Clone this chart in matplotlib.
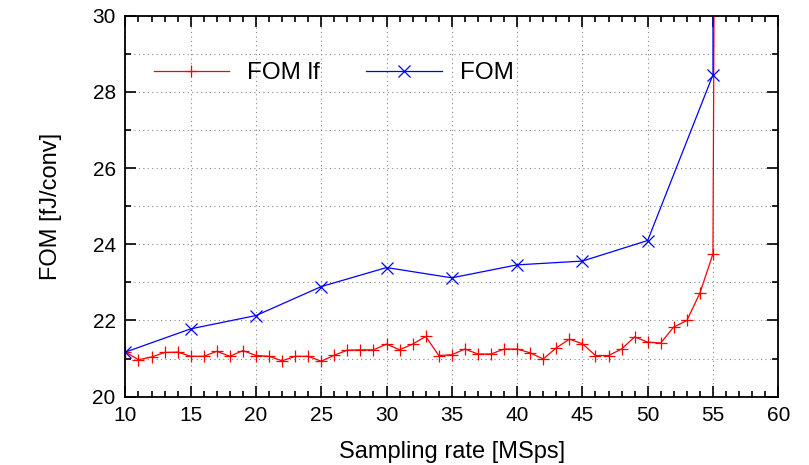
import matplotlib.pyplot as plt
from matplotlib.ticker import MultipleLocator

plt.rcParams['font.family'] = ['Liberation Sans', 'DejaVu Sans']

# FOM lf: 1 MSps steps, then the curve shoots off the top just after 55
rate_lf = list(range(10, 56)) + [55.2]
fom_lf = [21.17, 20.97, 21.04, 21.16, 21.17, 21.06, 21.06, 21.19, 21.06, 21.21,
          21.08, 21.06, 20.94, 21.06, 21.06, 20.93, 21.09, 21.22, 21.23, 21.23,
          21.38, 21.23, 21.38, 21.58, 21.08, 21.10, 21.25, 21.12, 21.12, 21.25,
          21.25, 21.15, 20.99, 21.28, 21.51, 21.39, 21.08, 21.08, 21.25, 21.57,
          21.43, 21.41, 21.83, 22.00, 22.72, 23.75, 40.0]

# FOM: 5 MSps steps
rate = [10, 15, 20, 25, 30, 35, 40, 45, 50, 55, 55]
fom = [21.17, 21.78, 22.13, 22.89, 23.39, 23.12, 23.46, 23.56, 24.10, 28.45, 40.0]

fig, ax = plt.subplots(figsize=(8.09, 4.65), dpi=100)
fig.subplots_adjust(left=0.155, right=0.962, top=0.966, bottom=0.147)

ax.plot(rate_lf, fom_lf, color='red', lw=0.9, marker='+', ms=9, mew=0.9, label='FOM lf')
ax.plot(rate, fom, color='blue', lw=0.9, marker='x', ms=8, mew=0.9, label='FOM')

ax.set_xlim(10, 60)
ax.set_ylim(20, 30)
ax.xaxis.set_major_locator(MultipleLocator(5))
ax.xaxis.set_minor_locator(MultipleLocator(1))
ax.yaxis.set_major_locator(MultipleLocator(2))
ax.yaxis.set_minor_locator(MultipleLocator(1))
ax.tick_params(which='both', direction='in', top=True, right=True, labelsize=15, width=1.2)
ax.tick_params(which='major', length=8, pad=7)
ax.tick_params(which='minor', length=4)
ax.grid(True, which='major', axis='x', ls=(0, (1, 3)), color='#888888', lw=0.8)
ax.grid(True, which='both', axis='y', ls=(0, (1, 3)), color='#888888', lw=0.8)
for s in ax.spines.values():
    s.set_linewidth(1.3)

ax.set_xlabel('Sampling rate [MSps]', fontsize=17, labelpad=11)
ax.set_ylabel('FOM [fJ/conv]', fontsize=17, labelpad=22)
ax.legend(loc='upper left', ncol=2, frameon=False, fontsize=17.5, handlelength=3.1,
          handletextpad=0.75, columnspacing=1.9, bbox_to_anchor=(0.01, 0.935))

fig.savefig('out.png')
